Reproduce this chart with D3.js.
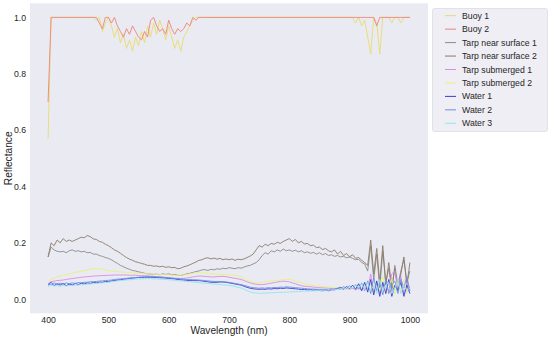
<!DOCTYPE html>
<html>
<head>
<meta charset="utf-8">
<script src="https://cdn.jsdelivr.net/npm/d3@7"></script>
<style>
  body { margin: 0; background: #fff; }
  text { font-family: "Liberation Sans", Arial, sans-serif; fill: #262626; }
</style>
</head>
<body>
<script>
// wavelength grid, 5 nm steps from 400 to 1000
var wavelengths = d3.range(400, 1001, 5);

var seriesNames = ["Buoy 1", "Buoy 2", "Tarp near surface 1", "Tarp near surface 2",
    "Tarp submerged 1", "Tarp submerged 2", "Water 1", "Water 2", "Water 3"];

var seriesColors = ["#e6dc6e", "#ec8478", "#8a8a8a", "#8c7a66",
    "#d98be6", "#e8f07c", "#3b3bd6", "#6f8fe0", "#8fe6ee"];

var xTicks = [400, 500, 600, 700, 800, 900, 1000];
var yTicks = [0.0, 0.2, 0.4, 0.6, 0.8, 1.0];

// one row = 50 nm
var buoy1 = [
    0.57, 1.0, 1.0, 1.0, 1.0, 1.0, 1.0, 1.0, 1.0, 1.0,
    1.0, 1.0, 1.0, 1.0, 1.0, 1.0, 0.99, 1.0, 0.95, 0.98,
    1.0, 0.97, 0.93, 0.96, 0.91, 0.94, 0.89, 0.92, 0.88, 0.93,
    0.90, 0.95, 0.91, 0.97, 0.93, 0.98, 0.94, 0.99, 0.96, 0.92,
    0.97, 0.93, 0.89, 0.92, 0.88, 0.93, 0.95, 0.97, 0.99, 1.0,
    1.0, 1.0, 1.0, 1.0, 1.0, 1.0, 1.0, 1.0, 1.0, 1.0,
    1.0, 1.0, 1.0, 1.0, 1.0, 1.0, 1.0, 1.0, 1.0, 1.0,
    1.0, 1.0, 1.0, 1.0, 1.0, 1.0, 1.0, 1.0, 1.0, 1.0,
    1.0, 1.0, 1.0, 1.0, 1.0, 1.0, 1.0, 1.0, 1.0, 1.0,
    1.0, 1.0, 1.0, 1.0, 1.0, 1.0, 1.0, 1.0, 1.0, 1.0,
    1.0, 1.0, 0.98, 1.0, 0.97, 0.99, 0.93, 0.87, 1.0, 0.98,
    0.87, 1.0, 1.0, 1.0, 0.98, 1.0, 1.0, 0.98, 1.0, 1.0,
    1.0
];

var buoy2 = [
    0.70, 1.0, 1.0, 1.0, 1.0, 1.0, 1.0, 1.0, 1.0, 1.0,
    1.0, 1.0, 1.0, 1.0, 1.0, 1.0, 1.0, 0.98, 0.96, 1.0,
    1.0, 0.98, 1.0, 0.97, 0.95, 0.93, 0.96, 0.94, 0.97, 0.95,
    0.93, 0.92, 0.95, 0.93, 0.99, 1.0, 0.97, 0.95, 0.96, 0.94,
    0.99, 0.96, 0.94, 0.96, 0.95, 0.96, 0.98, 0.97, 1.0, 0.99,
    1.0, 1.0, 1.0, 1.0, 1.0, 1.0, 1.0, 1.0, 1.0, 1.0,
    1.0, 1.0, 1.0, 1.0, 1.0, 1.0, 1.0, 1.0, 1.0, 1.0,
    1.0, 1.0, 1.0, 1.0, 1.0, 1.0, 1.0, 1.0, 1.0, 1.0,
    1.0, 1.0, 1.0, 1.0, 1.0, 1.0, 1.0, 1.0, 1.0, 1.0,
    1.0, 1.0, 1.0, 1.0, 1.0, 1.0, 1.0, 1.0, 1.0, 1.0,
    1.0, 1.0, 1.0, 1.0, 1.0, 1.0, 1.0, 1.0, 1.0, 0.97,
    1.0, 1.0, 1.0, 1.0, 1.0, 1.0, 1.0, 1.0, 1.0, 1.0,
    1.0
];

var tarpSurface1 = [
    0.15, 0.185, 0.175, 0.17, 0.168, 0.17, 0.165, 0.172, 0.175, 0.17,
    0.172, 0.168, 0.17, 0.165, 0.166, 0.16, 0.16, 0.155, 0.152, 0.148,
    0.145, 0.14, 0.133, 0.127, 0.12, 0.115, 0.11, 0.106, 0.102, 0.1,
    0.097, 0.095, 0.092, 0.09, 0.09, 0.088, 0.089, 0.087, 0.09, 0.088,
    0.09, 0.087, 0.088, 0.085, 0.084, 0.087, 0.09, 0.092, 0.095, 0.098,
    0.1, 0.104, 0.105, 0.102, 0.106, 0.104, 0.108, 0.106, 0.11, 0.108,
    0.112, 0.11, 0.108, 0.112, 0.11, 0.114, 0.118, 0.12, 0.125, 0.13,
    0.14, 0.155, 0.165, 0.16, 0.172, 0.168, 0.175, 0.17, 0.178, 0.172,
    0.175, 0.17, 0.174, 0.168, 0.172, 0.165, 0.168, 0.163, 0.166, 0.16,
    0.165, 0.158, 0.162, 0.155, 0.158, 0.152, 0.155, 0.15, 0.152, 0.147,
    0.15, 0.145, 0.14, 0.142, 0.13, 0.125, 0.1, 0.19, 0.07, 0.16,
    0.04, 0.17, 0.06, 0.11, 0.03, 0.12, 0.05, 0.1, 0.14, 0.06,
    0.1
];

var tarpSurface2 = [
    0.15, 0.20, 0.19, 0.21, 0.20, 0.215, 0.205, 0.21, 0.205, 0.21,
    0.215, 0.22, 0.218, 0.226, 0.222, 0.214, 0.212, 0.205, 0.202, 0.195,
    0.19, 0.183, 0.175, 0.17, 0.163, 0.155, 0.148, 0.142, 0.138, 0.133,
    0.13, 0.127, 0.124, 0.12, 0.12, 0.117, 0.118, 0.115, 0.117, 0.113,
    0.115, 0.112, 0.113, 0.108, 0.11, 0.115, 0.118, 0.122, 0.127, 0.132,
    0.138, 0.14, 0.145, 0.147, 0.143, 0.146, 0.142, 0.145, 0.14, 0.143,
    0.14, 0.143, 0.138, 0.142, 0.14, 0.143, 0.148, 0.153, 0.16, 0.175,
    0.19, 0.185, 0.195, 0.19, 0.198, 0.195, 0.202, 0.198, 0.205, 0.21,
    0.215, 0.205, 0.212, 0.2, 0.205, 0.196, 0.198, 0.19, 0.192, 0.183,
    0.185, 0.176, 0.18, 0.172, 0.168, 0.175, 0.16, 0.17, 0.155, 0.162,
    0.15, 0.158, 0.145, 0.148, 0.138, 0.13, 0.12, 0.21, 0.09, 0.18,
    0.06, 0.19, 0.05, 0.13, 0.04, 0.11, 0.03, 0.09, 0.15, 0.05,
    0.13
];

var tarpSubmerged1 = [
    0.055, 0.062, 0.064, 0.066, 0.067, 0.068, 0.07, 0.072, 0.073, 0.075,
    0.076, 0.078, 0.079, 0.08, 0.081, 0.082, 0.083, 0.083, 0.084, 0.084,
    0.085, 0.085, 0.086, 0.086, 0.086, 0.086, 0.086, 0.085, 0.085, 0.085,
    0.084, 0.084, 0.083, 0.083, 0.082, 0.081, 0.08, 0.079, 0.078, 0.077,
    0.076, 0.075, 0.074, 0.074, 0.073, 0.074, 0.075, 0.077, 0.079, 0.081,
    0.082, 0.082, 0.081, 0.08, 0.079, 0.079, 0.08, 0.081, 0.081, 0.08,
    0.078, 0.076, 0.074, 0.072, 0.07, 0.066, 0.062, 0.058, 0.055, 0.053,
    0.052, 0.052, 0.053, 0.055, 0.057, 0.059, 0.061, 0.063, 0.064, 0.063,
    0.062, 0.058, 0.055, 0.051, 0.048, 0.046, 0.045, 0.044, 0.043, 0.042,
    0.041, 0.04, 0.04, 0.039, 0.038, 0.038, 0.037, 0.038, 0.036, 0.039,
    0.035, 0.04, 0.033, 0.042, 0.03, 0.045, 0.035, 0.09, 0.025, 0.06,
    0.02, 0.05, 0.04, 0.03, 0.09, 0.1, 0.04, 0.08, 0.02, 0.06,
    0.03
];

var tarpSubmerged2 = [
    0.06, 0.072, 0.075, 0.08, 0.082, 0.084, 0.087, 0.09, 0.092, 0.095,
    0.097, 0.1, 0.102, 0.104, 0.106, 0.108, 0.108, 0.107, 0.106, 0.104,
    0.102, 0.1, 0.099, 0.098, 0.097, 0.096, 0.095, 0.094, 0.094, 0.093,
    0.092, 0.092, 0.091, 0.09, 0.09, 0.089, 0.088, 0.088, 0.087, 0.087,
    0.086, 0.086, 0.085, 0.085, 0.085, 0.086, 0.088, 0.09, 0.092, 0.094,
    0.095, 0.094, 0.093, 0.092, 0.09, 0.09, 0.089, 0.088, 0.088, 0.087,
    0.086, 0.086, 0.085, 0.083, 0.08, 0.072, 0.066, 0.062, 0.06, 0.059,
    0.059, 0.06, 0.061, 0.063, 0.064, 0.066, 0.067, 0.068, 0.069, 0.07,
    0.07, 0.068, 0.065, 0.061, 0.058, 0.055, 0.052, 0.05, 0.048, 0.047,
    0.046, 0.045, 0.044, 0.043, 0.042, 0.041, 0.04, 0.04, 0.038, 0.04,
    0.037, 0.042, 0.035, 0.046, 0.033, 0.05, 0.03, 0.07, 0.02, 0.06,
    0.03, 0.08, 0.02, 0.05, 0.07, 0.02, 0.06, 0.03, 0.07, 0.02,
    0.05
];

var water1 = [
    0.05, 0.06, 0.048, 0.055, 0.05, 0.056, 0.048, 0.054, 0.05, 0.056,
    0.052, 0.057, 0.054, 0.058, 0.056, 0.06, 0.058, 0.061, 0.06, 0.063,
    0.062, 0.065, 0.066, 0.068, 0.069, 0.071, 0.072, 0.074, 0.075, 0.076,
    0.077, 0.077, 0.078, 0.078, 0.078, 0.077, 0.077, 0.076, 0.076, 0.075,
    0.074, 0.073, 0.072, 0.07, 0.069, 0.068, 0.067, 0.066, 0.066, 0.066,
    0.066, 0.065, 0.063, 0.062, 0.06, 0.06, 0.06, 0.061, 0.061, 0.06,
    0.058, 0.056, 0.054, 0.052, 0.05, 0.046, 0.042, 0.039, 0.037, 0.036,
    0.035, 0.036, 0.035, 0.037, 0.036, 0.038, 0.037, 0.039, 0.038, 0.04,
    0.039, 0.038, 0.037, 0.036, 0.034, 0.035, 0.033, 0.034, 0.032, 0.033,
    0.031, 0.03, 0.032, 0.03, 0.033, 0.035, 0.038, 0.042, 0.036, 0.045,
    0.038, 0.05, 0.035, 0.055, 0.03, 0.06, 0.025, 0.07, 0.015, 0.065,
    0.01, 0.06, 0.02, 0.07, 0.01, 0.05, 0.03, 0.06, 0.01, 0.05,
    0.02
];

var water2 = [
    0.055, 0.05, 0.058, 0.052, 0.057, 0.053, 0.058, 0.055, 0.058, 0.056,
    0.059, 0.058, 0.06, 0.06, 0.062, 0.062, 0.063, 0.064, 0.065, 0.066,
    0.067, 0.068, 0.07, 0.071, 0.072, 0.073, 0.074, 0.075, 0.076, 0.077,
    0.078, 0.079, 0.08, 0.08, 0.08, 0.08, 0.079, 0.079, 0.078, 0.077,
    0.076, 0.075, 0.074, 0.073, 0.072, 0.071, 0.07, 0.07, 0.069, 0.069,
    0.068, 0.067, 0.066, 0.065, 0.064, 0.063, 0.063, 0.063, 0.062, 0.061,
    0.06, 0.058, 0.056, 0.054, 0.052, 0.049, 0.046, 0.043, 0.041, 0.04,
    0.039, 0.04, 0.039, 0.041, 0.04, 0.042, 0.041, 0.043, 0.042, 0.044,
    0.043, 0.042, 0.041, 0.04, 0.039, 0.038, 0.037, 0.036, 0.036, 0.035,
    0.035, 0.034, 0.035, 0.033, 0.036, 0.032, 0.04, 0.035, 0.045, 0.038,
    0.048, 0.036, 0.052, 0.035, 0.058, 0.03, 0.065, 0.02, 0.075, 0.03,
    0.06, 0.015, 0.07, 0.02, 0.05, 0.065, 0.02, 0.07, 0.04, 0.08,
    0.03
];

var water3 = [
    0.045, 0.05, 0.047, 0.048, 0.046, 0.048, 0.047, 0.049, 0.048, 0.05,
    0.05, 0.051, 0.052, 0.053, 0.054, 0.055, 0.056, 0.057, 0.058, 0.059,
    0.06, 0.062, 0.063, 0.065, 0.066, 0.067, 0.068, 0.069, 0.07, 0.071,
    0.072, 0.072, 0.073, 0.073, 0.073, 0.072, 0.072, 0.071, 0.07, 0.07,
    0.069, 0.068, 0.067, 0.066, 0.065, 0.064, 0.063, 0.062, 0.061, 0.06,
    0.059, 0.058, 0.057, 0.056, 0.055, 0.054, 0.053, 0.052, 0.051, 0.05,
    0.049, 0.047, 0.045, 0.042, 0.04, 0.035, 0.03, 0.026, 0.023, 0.022,
    0.021, 0.021, 0.022, 0.022, 0.023, 0.023, 0.024, 0.024, 0.025, 0.025,
    0.026, 0.026, 0.027, 0.027, 0.028, 0.028, 0.029, 0.029, 0.03, 0.03,
    0.031, 0.031, 0.032, 0.032, 0.033, 0.034, 0.035, 0.036, 0.04, 0.035,
    0.045, 0.038, 0.05, 0.04, 0.055, 0.035, 0.06, 0.03, 0.05, 0.02,
    0.07, 0.03, 0.05, 0.06, 0.02, 0.04, 0.07, 0.02, 0.05, 0.03,
    0.04
];

var seriesValues = [buoy1, buoy2, tarpSurface1, tarpSurface2,
    tarpSubmerged1, tarpSubmerged2, water1, water2, water3];

var width = 550, height = 340;
var plotLeft = 30, plotRight = 428, plotTop = 3.3, plotBottom = 313.3;

var svg = d3
    .select("body")
    .append("svg")
    .attr("width", width)
    .attr("height", height);

var x = d3.scaleLinear().domain([370, 1030]).range([plotLeft, plotRight]);
var y = d3.scaleLinear().domain([-0.05, 1.05]).range([plotBottom, plotTop]);

// plot background
svg.append("rect")
    .attr("x", plotLeft)
    .attr("y", plotTop)
    .attr("width", plotRight - plotLeft)
    .attr("height", plotBottom - plotTop)
    .style("fill", "#eaeaf2");

var xAxis = svg.append("g")
    .attr("transform", "translate(0," + plotBottom + ")")
    .call(d3.axisBottom(x).tickValues(xTicks).tickSize(0).tickPadding(4).tickFormat(d3.format("d")));

var yAxis = svg.append("g")
    .attr("transform", "translate(" + plotLeft + ",0)")
    .call(d3.axisLeft(y).tickValues(yTicks).tickSize(0).tickPadding(4).tickFormat(d3.format(".1f")));

[xAxis, yAxis].forEach(function (a) {
    a.select(".domain").remove();
    a.selectAll("text")
        .style("font-family", "'Liberation Sans', Arial, sans-serif")
        .style("font-size", "8.7px")
        .style("fill", "#262626");
});

var line = d3.line()
    .x(function (d, i) { return x(wavelengths[i]); })
    .y(function (d) { return y(d); });

svg.append("g")
    .selectAll("path")
    .data(seriesValues)
    .enter()
    .append("path")
    .attr("d", line)
    .style("fill", "none")
    .style("stroke", function (d, i) { return seriesColors[i]; })
    .style("stroke-width", "0.9px")
    .style("stroke-linejoin", "round");

// axis labels
svg.append("text")
    .attr("x", (plotLeft + plotRight) / 2)
    .attr("y", 334.4)
    .attr("text-anchor", "middle")
    .style("font-size", "10.2px")
    .text("Wavelength (nm)");

svg.append("text")
    .attr("transform", "translate(12.3," + (plotTop + plotBottom) / 2 + ") rotate(-90)")
    .attr("text-anchor", "middle")
    .style("font-size", "10.2px")
    .text("Reflectance");

// legend
var legend = svg.append("g");

legend.append("rect")
    .attr("x", 432.5)
    .attr("y", 8.5)
    .attr("width", 115)
    .attr("height", 123)
    .attr("rx", 2)
    .style("fill", "#eeeef4")
    .style("stroke", "#dcdce4")
    .style("stroke-width", "0.8px");

var entry = legend.selectAll("g.entry")
    .data(seriesNames)
    .enter()
    .append("g")
    .attr("class", "entry")
    .attr("transform", function (d, i) { return "translate(0," + (15.7 + i * 13.45) + ")"; });

entry.append("line")
    .attr("x1", 445)
    .attr("x2", 456)
    .style("stroke", function (d, i) { return seriesColors[i]; })
    .style("stroke-width", "1px");

entry.append("text")
    .attr("x", 462)
    .attr("dy", "0.35em")
    .style("font-size", "8.7px")
    .text(function (d) { return d; });
</script>
</body>
</html>
